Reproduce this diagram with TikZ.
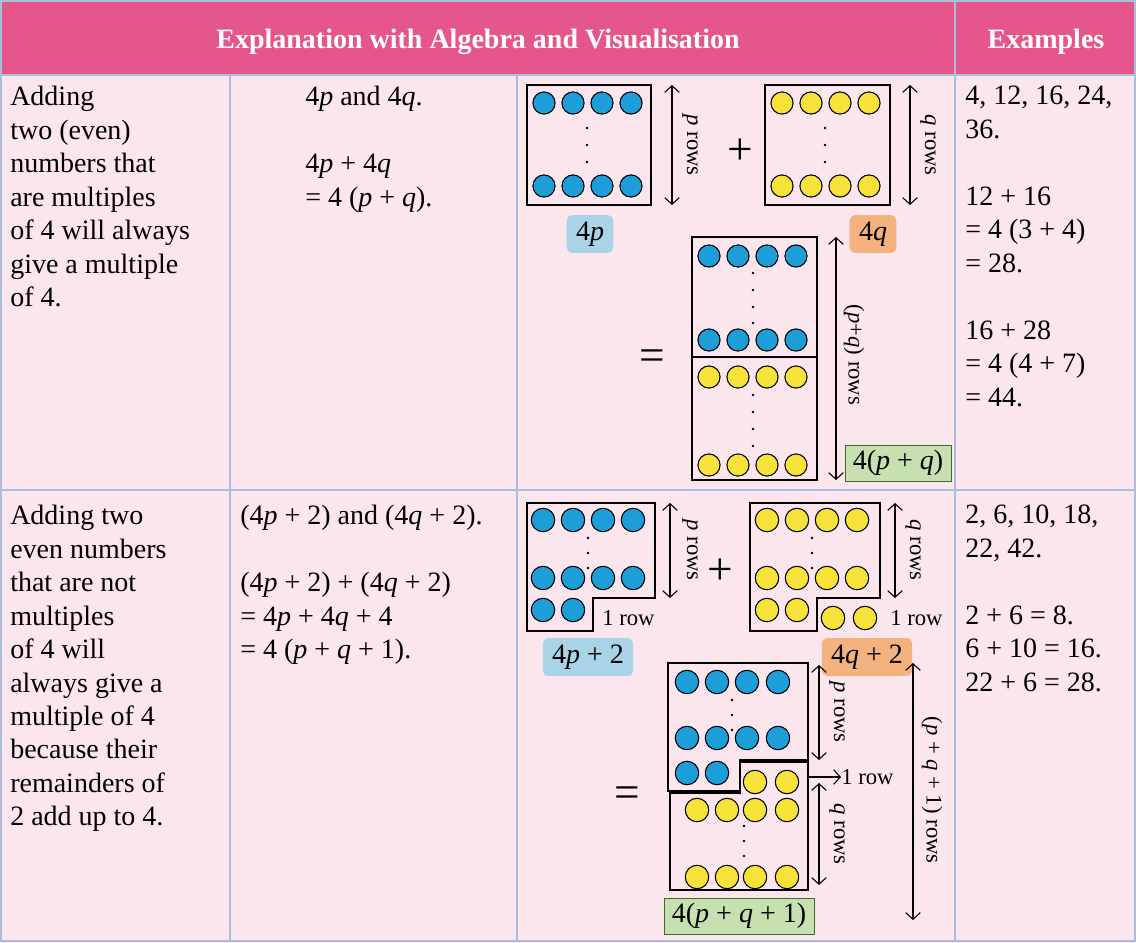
\documentclass[tikz,border=0pt]{standalone}
\usepackage{fontspec}
\setmainfont{Liberation Serif}
\usetikzlibrary{arrows.meta,positioning}
\definecolor{headpink}{HTML}{E5578A}
\definecolor{cellpink}{HTML}{FCE6EE}
\definecolor{gridblue}{HTML}{A9BEDF}
\definecolor{dotblue}{HTML}{1E9ED8}
\definecolor{dotyellow}{HTML}{F7E23A}
\definecolor{tagblue}{HTML}{A9D3E6}
\definecolor{tagorange}{HTML}{F3B27E}
\definecolor{taggreen}{HTML}{C6E0B0}
\definecolor{taggreenline}{HTML}{3C6B2C}

\begin{document}
\begin{tikzpicture}
  [
    x=0.75pt, y=-0.75pt,
    every node/.style = {font=\fontsize{21}{25.1}\selectfont, inner sep=0pt},
    cell text/.style = {anchor=north west, align=left},
    head/.style = {text=white, font=\fontsize{21}{25}\selectfont\bfseries},
    bdot/.style = {draw=black, thick, fill=dotblue},
    ydot/.style = {draw=black, thick, fill=dotyellow},
    pile/.style = {draw=black, thick},
    span/.style = {<->, thick, >={Straight Barb[length=5pt,width=11pt]}},
    rows/.style = {rotate=-90, font=\fontsize{17}{20}\selectfont},
    small/.style = {font=\fontsize{17}{20}\selectfont},
    tag/.style = {rounded corners=4pt, inner xsep=7pt, inner ysep=5pt},
    total/.style = {draw=taggreenline, fill=taggreen, inner xsep=6pt, inner ysep=4pt},
    sign/.style = {font=\fontsize{34}{34}\selectfont},
  ]

  \useasboundingbox (0,0) rectangle (1136,943);
  \fill[cellpink] (0,0) rectangle (1136,943);
  \fill[headpink] (0,0) rectangle (1136,75);

  % grid
  \draw[gridblue, thick] (1,1) rectangle (1135,941);
  \foreach \gx in {230,517} \draw[gridblue, thick] (\gx,75) -- (\gx,941);
  \draw[gridblue, thick] (955,0) -- (955,941);
  \draw[gridblue, thick] (0,75) -- (1136,75) (0,490) -- (1136,490);

  \node[head] (h1) at (478,42) {Explanation with Algebra and Visualisation};
  \node[head] (h2) at (1046,42) {Examples};

  % text cells
  \node[cell text] (t1) at (10,86) {Adding\\two (even)\\numbers that\\are multiples\\of 4 will always\\give a multiple\\of 4.};
  \node[cell text] (t2) at (10,505) {Adding two\\even numbers\\that are not\\multiples\\of 4 will\\always give a\\multiple of 4\\because their\\remainders of\\2 add up to 4.};
  \node[cell text] (a1) at (305,86) {4\textit{p} and 4\textit{q}.\\[25.1pt]4\textit{p} + 4\textit{q}\\= 4 (\textit{p} + \textit{q}).};
  \node[cell text] (a2) at (240,505) {(4\textit{p} + 2) and (4\textit{q} + 2).\\[25.1pt](4\textit{p} + 2) + (4\textit{q} + 2)\\= 4\textit{p} + 4\textit{q} + 4\\= 4 (\textit{p} + \textit{q} + 1).};
  \node[cell text] (e1) at (965,86) {4, 12, 16, 24,\\36.\\[25.1pt]12 + 16\\= 4 (3 + 4)\\= 28.\\[25.1pt]16 + 28\\= 4 (4 + 7)\\= 44.};
  \node[cell text] (e2) at (965,505) {2, 6, 10, 18,\\22, 42.\\[25.1pt]2 + 6 = 8.\\6 + 10 = 16.\\22 + 6 = 28.};

  % 4p + 4q
  \draw[pile] (527,85) rectangle (651,205);
  \foreach \x in {544,573,602,631} {
    \draw[bdot] (\x,103) circle (8.3pt);
    \draw[bdot] (\x,186) circle (8.3pt);
  }
  \foreach \y in {128,145,162} \fill (587,\y) circle (1pt);
  \coordinate (p1a) at (672,85);
  \coordinate (p1b) at (672,205);
  \draw[span] (p1a) -- (p1b);
  \node[rows] (pr1) at (690,145) {\textit{p} rows};
  \node[sign] (plus1) at (740,152) {+};

  \draw[pile] (765,85) rectangle (890,205);
  \foreach \x in {782,811,840,869} {
    \draw[ydot] (\x,103) circle (8.3pt);
    \draw[ydot] (\x,186) circle (8.3pt);
  }
  \foreach \y in {128,145,162} \fill (825,\y) circle (1pt);
  \coordinate (q1a) at (910,85);
  \coordinate (q1b) at (910,205);
  \draw[span] (q1a) -- (q1b);
  \node[rows] (qr1) at (928,145) {\textit{q} rows};

  \node[tag, fill=tagblue] (tp1) at (590,234) {4\textit{p}};
  \node[tag, fill=tagorange] (tq1) at (873,234) {4\textit{q}};

  \node[sign] (eq1) at (652,360) {=};
  \draw[pile] (692,237) rectangle (817,357);
  \draw[pile] (692,357) rectangle (817,480);
  \foreach \x in {709,738,767,796} {
    \draw[bdot] (\x,256) circle (8.3pt);
    \draw[bdot] (\x,340) circle (8.3pt);
    \draw[ydot] (\x,377) circle (8.3pt);
    \draw[ydot] (\x,465) circle (8.3pt);
  }
  \foreach \y in {273,290,307,323,395,412,429,446} \fill (753,\y) circle (1pt);
  \coordinate (s1a) at (836,237);
  \coordinate (s1b) at (836,480);
  \draw[span] (s1a) -- (s1b);
  \node[rows] (sr1) at (854,355) {(\textit{p}+\textit{q}) rows};
  \node[total] (tt1) at (898,463) {4(\textit{p} + \textit{q})};

  % (4p + 2) + (4q + 2)
  \draw[pile] (527,503) -- (655,503) -- (655,598) -- (593,598) -- (593,631) -- (527,631) -- cycle;
  \foreach \x in {543,573,603,633} {
    \draw[bdot] (\x,520) circle (8.8pt);
    \draw[bdot] (\x,578) circle (8.8pt);
  }
  \foreach \x in {543,573} \draw[bdot] (\x,610) circle (8.8pt);
  \foreach \y in {538,553,568} \fill (588,\y) circle (1pt);
  \coordinate (p2a) at (670,503);
  \coordinate (p2b) at (670,598);
  \draw[span] (p2a) -- (p2b);
  \node[rows] (pr2) at (690,550) {\textit{p} rows};
  \node[small, anchor=west] (r2a) at (602,618) {1 row};
  \node[sign] (plus2) at (720,572) {+};

  \draw[pile] (750,503) -- (880,503) -- (880,598) -- (817,598) -- (817,631) -- (750,631) -- cycle;
  \foreach \x in {767,797,827,857} {
    \draw[ydot] (\x,520) circle (8.8pt);
    \draw[ydot] (\x,578) circle (8.8pt);
  }
  \foreach \x in {767,797} \draw[ydot] (\x,610) circle (8.8pt);
  \foreach \x in {833,865} \draw[ydot] (\x,618) circle (8.8pt);
  \foreach \y in {538,553,568} \fill (812,\y) circle (1pt);
  \coordinate (q2a) at (895,503);
  \coordinate (q2b) at (895,598);
  \draw[span] (q2a) -- (q2b);
  \node[rows] (qr2) at (913,550) {\textit{q} rows};
  \node[small, anchor=west] (r2b) at (890,618) {1 row};

  \node[tag, fill=tagblue] (tp2) at (588,657) {4\textit{p} + 2};
  \node[tag, fill=tagorange] (tq2) at (867,657) {4\textit{q} + 2};

  \node[sign] (eq2) at (627,797) {=};
  \draw[pile] (668,663) -- (808,663) -- (808,760) -- (740,760) -- (740,791) -- (668,791) -- cycle;
  \draw[pile] (670,793) -- (740,793) -- (740,762) -- (808,762) -- (808,890) -- (670,890) -- cycle;
  \foreach \x in {687,717,747,778} {
    \draw[bdot] (\x,682) circle (8.8pt);
    \draw[bdot] (\x,738) circle (8.8pt);
  }
  \foreach \x in {687,717} \draw[bdot] (\x,773) circle (8.8pt);
  \foreach \x in {755,787} \draw[ydot] (\x,782) circle (8.8pt);
  \foreach \x in {697,727,755,787} {
    \draw[ydot] (\x,810) circle (8.8pt);
    \draw[ydot] (\x,877) circle (8.8pt);
  }
  \foreach \y in {700,715,730} \fill (732,\y) circle (1pt);
  \foreach \y in {826,841,856} \fill (744,\y) circle (1pt);
  \coordinate (p3a) at (819,665);
  \coordinate (p3b) at (819,760);
  \draw[span] (p3a) -- (p3b);
  \node[rows] (pr3) at (837,712) {\textit{p} rows};
  \coordinate (r3a) at (808,777);
  \node[small, anchor=west] (r3b) at (841,777) {1 row};
  \draw[->, thick, >={Straight Barb[length=5pt,width=11pt]}] (r3a) -- (r3b);
  \coordinate (q3a) at (819,783);
  \coordinate (q3b) at (819,885);
  \draw[span] (q3a) -- (q3b);
  \node[rows] (qr3) at (837,834) {\textit{q} rows};
  \coordinate (s3a) at (913,663);
  \coordinate (s3b) at (913,920);
  \draw[span] (s3a) -- (s3b);
  \node[rows] (sr3) at (932,790) {(\textit{p} + \textit{q} + 1) rows};
  \node[total] (tt3) at (739,916) {4(\textit{p} + \textit{q} + 1)};

\end{tikzpicture}
\end{document}
